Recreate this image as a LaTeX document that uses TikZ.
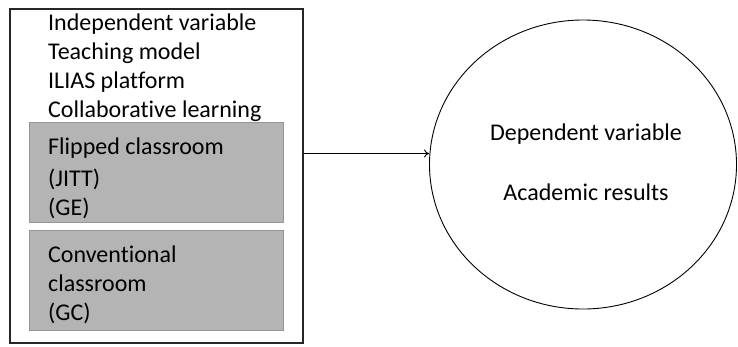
\documentclass[tikz,border=0pt]{standalone}
\usepackage{fontspec}
\setmainfont[Ligatures=NoCommon]{Carlito}
\usetikzlibrary{arrows.meta,shapes.geometric}
\definecolor{boxgray}{RGB}{180,180,180}
\definecolor{edgegray}{RGB}{150,150,150}
\tikzset{
  lbl/.style={anchor=base west,inner sep=0pt,font=\fontsize{24}{28}\selectfont,text=black},
  clbl/.style={anchor=base,inner sep=0pt,font=\fontsize{24}{28}\selectfont,text=black},
  graybox/.style={draw=edgegray,line width=0.8pt,fill=boxgray},
  outerbox/.style={draw=black!85,line width=1.3pt},
}
\begin{document}
\begin{tikzpicture}[x=1pt,y=-1pt]
\useasboundingbox (0,0) rectangle (738,346);
% outer box
\node[outerbox,minimum width=293pt,minimum height=334pt,inner sep=0pt] (outer) at (156.5,176) {};
% gray boxes
\node[graybox,minimum width=254pt,minimum height=100pt,inner sep=0pt] (ge) at (156,172) {};
\node[graybox,minimum width=254pt,minimum height=100pt,inner sep=0pt] (gc) at (156,280) {};
% texts
\node[lbl] (t1) at (48,30) {Independent variable};
\node[lbl] (t2) at (48,59) {Teaching model};
\node[lbl] (t3) at (48,88) {ILIAS platform};
\node[lbl] (t4) at (48,117) {Collaborative learning};
\node[lbl] (g1) at (48,154) {Flipped classroom};
\node[lbl] (g2) at (48,186) {(JITT)};
\node[lbl] (g3) at (48,215) {(GE)};
\node[lbl] (c1) at (48,262) {Conventional};
\node[lbl] (c2) at (48,291) {classroom};
\node[lbl] (c3) at (48,320) {(GC)};
% ellipse
\node[ellipse,draw=black,line width=0.9pt,minimum width=307pt,minimum height=289pt,inner sep=0pt] (dep) at (583,164.5) {};
\node[clbl] (d1) at (586,140) {Dependent variable};
\node[clbl] (d2) at (586,200) {Academic results};
% arrow
\coordinate (ay) at (0,153.5);
\draw[line width=0.9pt,-{To[length=5pt,width=8pt]}] (outer.east |- ay) -- (dep.west |- ay);
\end{tikzpicture}
\end{document}
